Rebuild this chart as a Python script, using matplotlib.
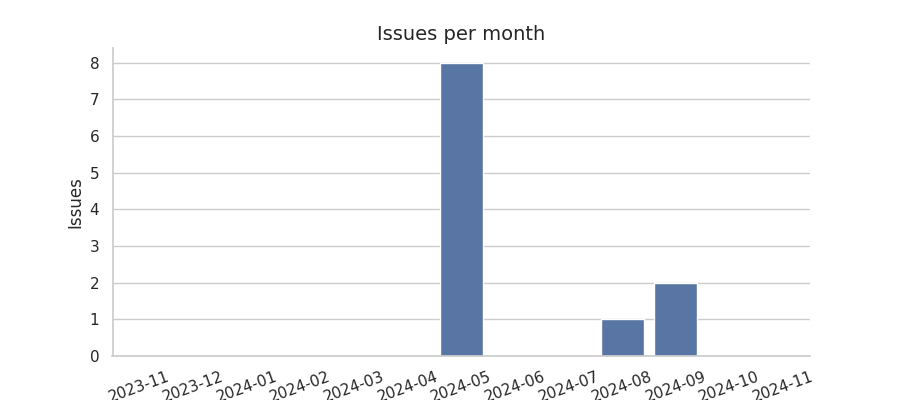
import matplotlib
matplotlib.use("Agg")
import matplotlib.pyplot as plt
import seaborn as sns

months = ["2023-11", "2023-12", "2024-01", "2024-02", "2024-03", "2024-04",
          "2024-05", "2024-06", "2024-07", "2024-08", "2024-09", "2024-10",
          "2024-11"]
issues = [0, 0, 0, 0, 0, 0, 8, 0, 0, 1, 2, 0, 0]

sns.set_theme(style="whitegrid")

fig, ax = plt.subplots(figsize=(9, 4), dpi=100)
sns.barplot(x=months, y=issues, color="#4c72b0", ax=ax)
ax.set_title("Issues per month", fontsize=14)
ax.set_ylabel("Issues")
ax.set_xlabel("")
plt.setp(ax.get_xticklabels(), rotation=20)
sns.despine()

fig.savefig("out.png", dpi=100)
